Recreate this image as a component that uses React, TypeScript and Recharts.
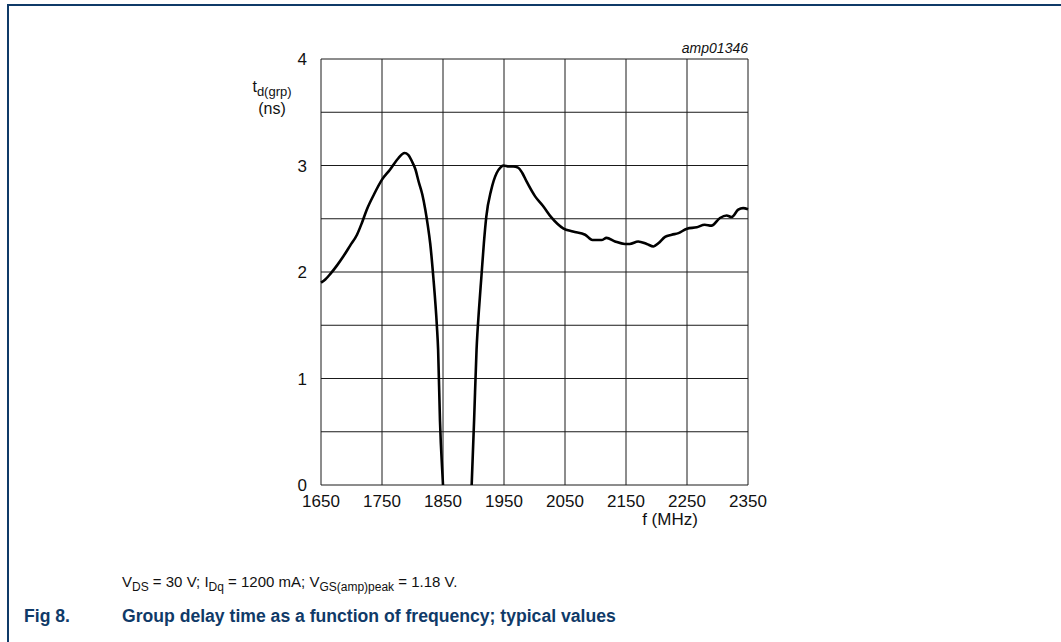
import { LineChart, Line, XAxis, YAxis, CartesianGrid } from 'recharts'

// frequency (MHz) and group delay (ns)
const freq = [
  1650, 1657, 1665, 1676, 1687, 1698, 1709, 1717, 1725, 1737, 1750, 1763, 1777, 1787, 1793,
  1799, 1805, 1810, 1816, 1821, 1825, 1829, 1834, 1840, 1842, 1845, 1850, 1856, 1892, 1897,
  1901, 1905, 1909, 1913, 1917, 1921, 1929, 1938, 1944, 1949, 1958, 1965, 1973, 1980, 1987,
  2001, 2014, 2028, 2047, 2063, 2083, 2095, 2110, 2118, 2132, 2148, 2156, 2170, 2184, 2195,
  2203, 2214, 2225, 2236, 2250, 2266, 2279, 2290, 2304, 2315, 2323, 2334, 2342, 2350,
]
const delay = [
  1.9, 1.93, 1.98, 2.06, 2.15, 2.25, 2.35, 2.46, 2.585, 2.73, 2.867, 2.96, 3.07, 3.117, 3.1,
  3.04, 2.96, 2.85, 2.73, 2.585, 2.44, 2.27, 1.96, 1.49, 1.27, 0.61, 0.0, -0.7, -0.7, 0.0,
  0.61, 1.27, 1.65, 1.96, 2.27, 2.52, 2.77, 2.93, 2.98, 3.0, 2.99, 2.99, 2.98, 2.93, 2.85,
  2.71, 2.62, 2.51, 2.41, 2.38, 2.35, 2.3, 2.3, 2.32, 2.287, 2.263, 2.263, 2.287, 2.263, 2.24,
  2.27, 2.33, 2.35, 2.365, 2.407, 2.42, 2.444, 2.435, 2.507, 2.53, 2.516, 2.585, 2.6, 2.59,
]

const xTicks = [1650, 1750, 1850, 1950, 2050, 2150, 2250, 2350]
const yTicks = [0, 0.5, 1, 1.5, 2, 2.5, 3, 3.5, 4]

const data = freq.map((f, i) => ({ f, td: delay[i] }))

const FONT = '"Liberation Sans", Arial, sans-serif'
const NAVY = '#0f3a68'

export default function App() {
  return (
    <div style={{ position: 'absolute', left: 0, top: 0, width: 1061, height: 642, background: '#fff', fontFamily: FONT, color: '#111' }}>
      <div style={{ position: 'absolute', left: 7, top: 4, right: 0, bottom: 0, borderTop: `2px solid ${NAVY}`, borderLeft: `2px solid ${NAVY}` }} />

      <LineChart
        width={1061}
        height={642}
        data={data}
        margin={{ left: 261, right: 313, top: 59, bottom: 127 }}
      >
        <CartesianGrid stroke="#1a1a1a" strokeWidth={1} />
        <XAxis
          dataKey="f"
          type="number"
          domain={[1650, 2350]}
          ticks={xTicks}
          interval={0}
          height={30}
          tickLine={false}
          axisLine={false}
          tickMargin={4}
          tick={{ fontSize: 17, fill: '#111', fontFamily: FONT }}
        />
        <YAxis
          type="number"
          domain={[0, 4]}
          ticks={yTicks}
          interval={0}
          allowDataOverflow
          width={60}
          tickLine={false}
          axisLine={false}
          tickMargin={8}
          tickFormatter={(v: number) => (Number.isInteger(v) ? String(v) : '')}
          tick={{ fontSize: 17, fill: '#111', fontFamily: FONT }}
        />
        <Line
          dataKey="td"
          type="monotone"
          stroke="#000"
          strokeWidth={2.6}
          dot={false}
          isAnimationActive={false}
        />
      </LineChart>

      <div style={{ position: 'absolute', right: 1061 - 748, top: 40, fontSize: 14, fontStyle: 'italic' }}>amp01346</div>

      <div style={{ position: 'absolute', left: 232, width: 80, top: 78, fontSize: 16, textAlign: 'center', lineHeight: '17px' }}>
        <div>t<sub style={{ fontSize: 13 }}>d(grp)</sub></div>
        <div>(ns)</div>
      </div>

      <div style={{ position: 'absolute', left: 620, width: 100, top: 510, fontSize: 17, textAlign: 'center' }}>f (MHz)</div>

      <div style={{ position: 'absolute', left: 122, top: 573, fontSize: 15 }}>
        V<sub style={{ fontSize: 12 }}>DS</sub> = 30 V; I<sub style={{ fontSize: 12 }}>Dq</sub> = 1200 mA; V
        <sub style={{ fontSize: 12 }}>GS(amp)peak</sub> = 1.18 V.
      </div>

      <div style={{ position: 'absolute', left: 24, top: 606, fontSize: 17.6, fontWeight: 'bold', color: NAVY }}>Fig 8.</div>
      <div style={{ position: 'absolute', left: 122, top: 606, fontSize: 17.6, fontWeight: 'bold', color: NAVY }}>
        Group delay time as a function of frequency; typical values
      </div>
    </div>
  )
}
